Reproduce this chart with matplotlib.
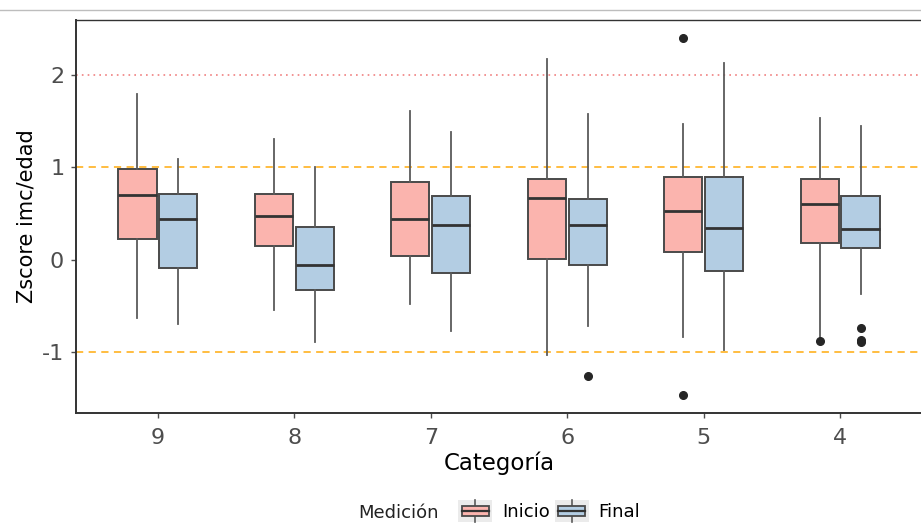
#!/usr/bin/env python3
"""Boxplots of BMI-for-age z-score by category, start vs end measurement."""

import matplotlib
matplotlib.use("Agg")
import matplotlib.pyplot as plt
from matplotlib.legend_handler import HandlerBase
from matplotlib.lines import Line2D
from matplotlib.patches import Rectangle, Patch


# -------- Data ------------------------------------------------------------- #

CATEGORIES = ["9", "8", "7", "6", "5", "4"]

INICIO_WHISLO = [-0.63, -0.54, -0.48, -1.03, -0.83, -0.86]
INICIO_Q1 = [0.23, 0.15, 0.04, 0.01, 0.09, 0.18]
INICIO_MED = [0.70, 0.47, 0.44, 0.67, 0.53, 0.60]
INICIO_Q3 = [0.98, 0.71, 0.84, 0.875, 0.90, 0.875]
INICIO_WHISHI = [1.79, 1.31, 1.61, 2.17, 1.47, 1.53]
INICIO_FLIERS = [[], [], [], [], [2.40, -1.46], [-0.88]]

FINAL_WHISLO = [-0.69, -0.89, -0.77, -0.71, -0.97, -0.37]
FINAL_Q1 = [-0.09, -0.32, -0.14, -0.05, -0.12, 0.13]
FINAL_MED = [0.44, -0.05, 0.38, 0.38, 0.35, 0.34]
FINAL_Q3 = [0.71, 0.36, 0.69, 0.66, 0.90, 0.69]
FINAL_WHISHI = [1.09, 1.01, 1.385, 1.58, 2.13, 1.45]
FINAL_FLIERS = [[], [], [], [-1.25], [], [-0.73, -0.86, -0.89]]

REF_DASHED = [1, -1]
REF_DOTTED = [2]
Y_TICKS = [-1, 0, 1, 2]

# -------- Style ------------------------------------------------------------ #

PINK = "#FBB4AE"
BLUE = "#B3CDE3"
EDGE = "#4A4A4A"
WHISK = "#5A5A5A"
TICK_GREY = "#4D4D4D"

W, H, DPI = 921, 523, 100


def stats(whislo, q1, med, q3, whishi, fliers):
    return [
        {"whislo": a, "q1": b, "med": c, "q3": d, "whishi": e, "fliers": f}
        for a, b, c, d, e, f in zip(whislo, q1, med, q3, whishi, fliers)
    ]


class BoxKey(HandlerBase):
    """ggplot-like boxplot legend key on a light grey square."""

    def create_artists(self, legend, orig_handle, xdescent, ydescent,
                       width, height, fontsize, trans):
        x0, y0 = -xdescent, -ydescent
        pad = height * 0.2
        bg = Rectangle((x0, y0 - pad), width, height + 2 * pad,
                       facecolor="#EBEBEB", edgecolor="none", transform=trans)
        cx = x0 + width / 2
        cy = y0 + height / 2
        vline = Line2D([cx, cx], [y0 - pad, y0 + height + pad],
                       color=WHISK, lw=1.2, transform=trans)
        bw, bh = width * 0.78, height * 0.6
        box = Rectangle((cx - bw / 2, cy - bh / 2), bw, bh,
                        facecolor=orig_handle.get_facecolor(),
                        edgecolor=EDGE, lw=1.3, transform=trans)
        med = Line2D([cx - bw / 2, cx + bw / 2], [cy, cy],
                     color="#333333", lw=1.6, transform=trans)
        return [bg, vline, box, med]


def main() -> None:
    plt.rcParams.update({
        "font.family": ["DejaVu Sans"],
        "font.size": 15,
    })

    fig = plt.figure(figsize=(W / DPI, H / DPI), dpi=DPI)
    ax = fig.add_axes([76 / W, (H - 413) / H, 846 / W, 393 / H])

    pos = list(range(len(CATEGORIES)))
    groups = [
        (stats(INICIO_WHISLO, INICIO_Q1, INICIO_MED, INICIO_Q3,
               INICIO_WHISHI, INICIO_FLIERS), -0.15, PINK),
        (stats(FINAL_WHISLO, FINAL_Q1, FINAL_MED, FINAL_Q3,
               FINAL_WHISHI, FINAL_FLIERS), 0.15, BLUE),
    ]

    # reference lines behind the boxes
    for y in REF_DASHED:
        ax.axhline(y, color="#FFB732", lw=1.3, ls=(0, (4, 3)), zorder=1)
    for y in REF_DOTTED:
        ax.axhline(y, color="#F08080", lw=1.2, ls=(0, (1, 2.5)), zorder=1)

    for st, off, color in groups:
        bp = ax.bxp(
            st, positions=[p + off for p in pos], widths=0.28,
            patch_artist=True, showcaps=False, manage_ticks=False,
            boxprops=dict(facecolor=color, edgecolor=EDGE, linewidth=1.4),
            whiskerprops=dict(color=WHISK, linewidth=1.3),
            medianprops=dict(color="#333333", linewidth=2.0),
            flierprops=dict(marker="o", markerfacecolor="#262626",
                            markeredgecolor="#262626", markersize=5.5),
            zorder=3,
        )
        for b in bp["boxes"]:
            b.set_zorder(3)

    ax.set_xlim(-0.6, len(CATEGORIES) - 0.4)
    ax.set_ylim(-1.654, 2.594)
    ax.set_xticks(pos)
    ax.set_xticklabels(CATEGORIES)
    ax.set_yticks(Y_TICKS)
    ax.set_yticklabels([str(t) for t in Y_TICKS])
    ax.tick_params(axis="both", colors=TICK_GREY, labelsize=16,
                   length=3.5, width=1.0, pad=5)
    ax.tick_params(axis="x", pad=7)

    for side, sp in ax.spines.items():
        sp.set_color("#333333")
        sp.set_linewidth(1.4 if side in ("left", "bottom") else 1.0)

    ax.set_xlabel("Categoría", fontsize=16.5, color="black", labelpad=3)
    ax.set_ylabel("Zscore imc/edad", fontsize=15, color="black", labelpad=4)

    # legend at the bottom, title to the left of the keys
    fig.text(358 / W, 1 - 513 / H, "Medición", fontsize=13,
             color="#222222", ha="left", va="center")
    handles = [Patch(facecolor=PINK, label="Inicio"),
               Patch(facecolor=BLUE, label="Final")]
    fig.legend(
        handles=handles, handler_map={Patch: BoxKey()},
        loc="center left", bbox_to_anchor=(458 / W, 1 - 512 / H),
        ncol=2, frameon=False, fontsize=13,
        handlelength=1.9, handleheight=1.0, handletextpad=0.55,
        columnspacing=0.25, borderpad=0, borderaxespad=0,
    )

    # thin grey rule at the very top of the screenshot
    fig.add_artist(Line2D([0, 1], [1 - 10 / H, 1 - 10 / H],
                          transform=fig.transFigure, color="#BDBDBD", lw=1))

    fig.savefig("out.png", dpi=DPI)


if __name__ == "__main__":
    main()
